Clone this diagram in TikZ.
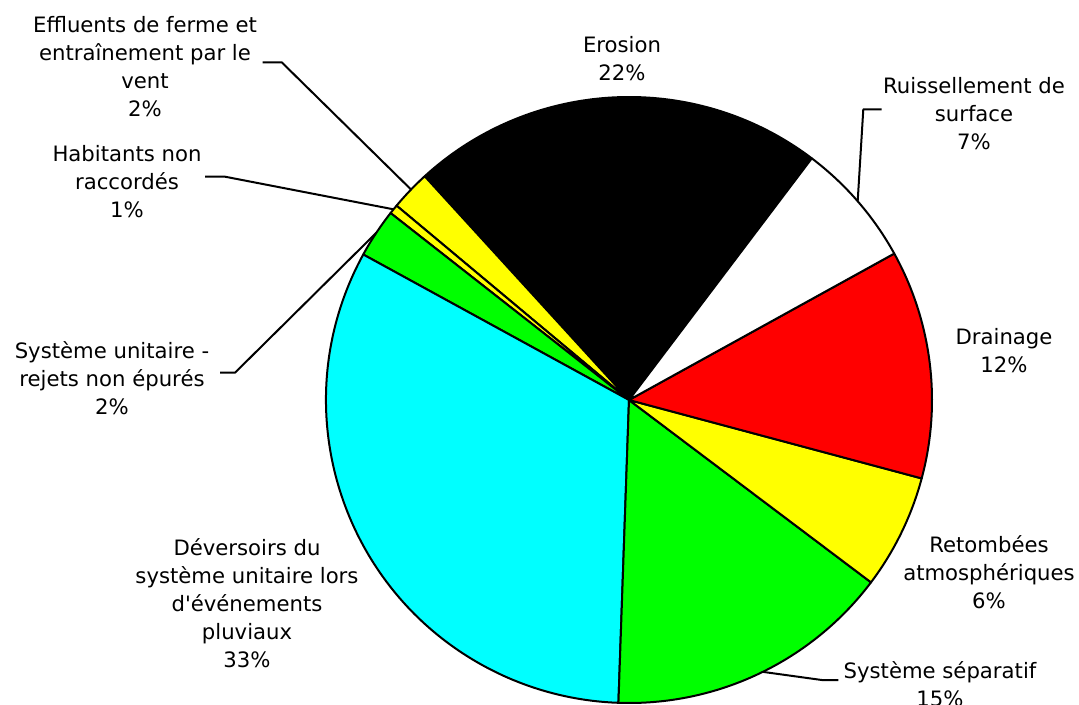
\documentclass[tikz,border=0pt]{standalone}
\usepackage{fontspec}
\setmainfont{DejaVu Sans}
\usepackage{tikz}
\usetikzlibrary{calc,positioning}
\usepackage{xcolor}
\definecolor{piecyan}{RGB}{0,255,255}
\definecolor{piegreen}{RGB}{0,255,0}
\definecolor{pieyellow}{RGB}{255,255,0}
\definecolor{piered}{RGB}{255,0,0}

\begin{document}
\begin{tikzpicture}[x=0.75pt,y=0.75pt,
  lbl/.style={align=center, font=\fontsize{15.9}{21}\selectfont},
  leader/.style={line width=1.5pt, line join=round}]
  \useasboundingbox (0,0) rectangle (1079,704);
  \coordinate (c) at (629,304);
  \foreach \a/\b/\col in {52.9/132.4/black, 132.4/140.1/pieyellow, 140.1/141.9/pieyellow,
      141.9/151.3/piegreen, 151.3/268/piecyan, 268/323/piegreen, 323/345/pieyellow,
      345/388.9/piered, 28.9/52.9/white}{
    \filldraw[fill=\col, line width=1.5pt, line join=round]
      (c) -- ++(\a:303) arc[start angle=\a, end angle=\b, radius=303] -- cycle;
  }

  \node[lbl] (erosionlbl) at (622,645.1) {Erosion\\22\%};
  \node[lbl] (ruisslbl) at (974,590.7) {Ruissellement de\\surface\\7\%};
  \node[lbl] (drainlbl) at (1004,353) {Drainage\\12\%};
  \node[lbl] (retomblbl) at (989,131.8) {Retombées\\atmosphériques\\6\%};
  \node[lbl] (seplbl) at (940,20.2) {Système séparatif\\15\%};
  \node[lbl] (deverslbl) at (247,101) {Déversoirs du\\système unitaire lors\\d\textquotesingle événements\\pluviaux\\33\%};
  \node[lbl] (unitlbl) at (112,326.3) {Système unitaire -\\rejets non épurés\\2\%};
  \node[lbl] (habitlbl) at (127,522.7) {Habitants non\\raccordés\\1\%};
  \node[lbl] (effllbl) at (145,637.7) {Effluents de ferme et\\entraînement par le\\vent\\2\%};

  \coordinate (effA) at (262.7,641.7);
  \coordinate (effB) at (281.7,641.7);
  \coordinate (effC) at ($(c)+(136:303)$);
  \coordinate (habA) at (205,527.3);
  \coordinate (habB) at (225,527.3);
  \coordinate (habC) at ($(c)+(141:303)$);
  \coordinate (unitA) at (220,331.3);
  \coordinate (unitB) at (235,331.3);
  \coordinate (unitC) at ($(c)+(146.5:303)$);
  \coordinate (ruissA) at (881.7,594.7);
  \coordinate (ruissB) at (863.3,594.7);
  \coordinate (ruissC) at ($(c)+(41:303)$);
  \coordinate (sepA) at (838.3,24);
  \coordinate (sepB) at (821.7,24);
  \coordinate (sepC) at ($(c)+(-63.8:303)$);
  \foreach \p in {eff,hab,unit,ruiss,sep}{
    \draw[leader] (\p A) -- (\p B) -- (\p C);
  }
\end{tikzpicture}
\end{document}
